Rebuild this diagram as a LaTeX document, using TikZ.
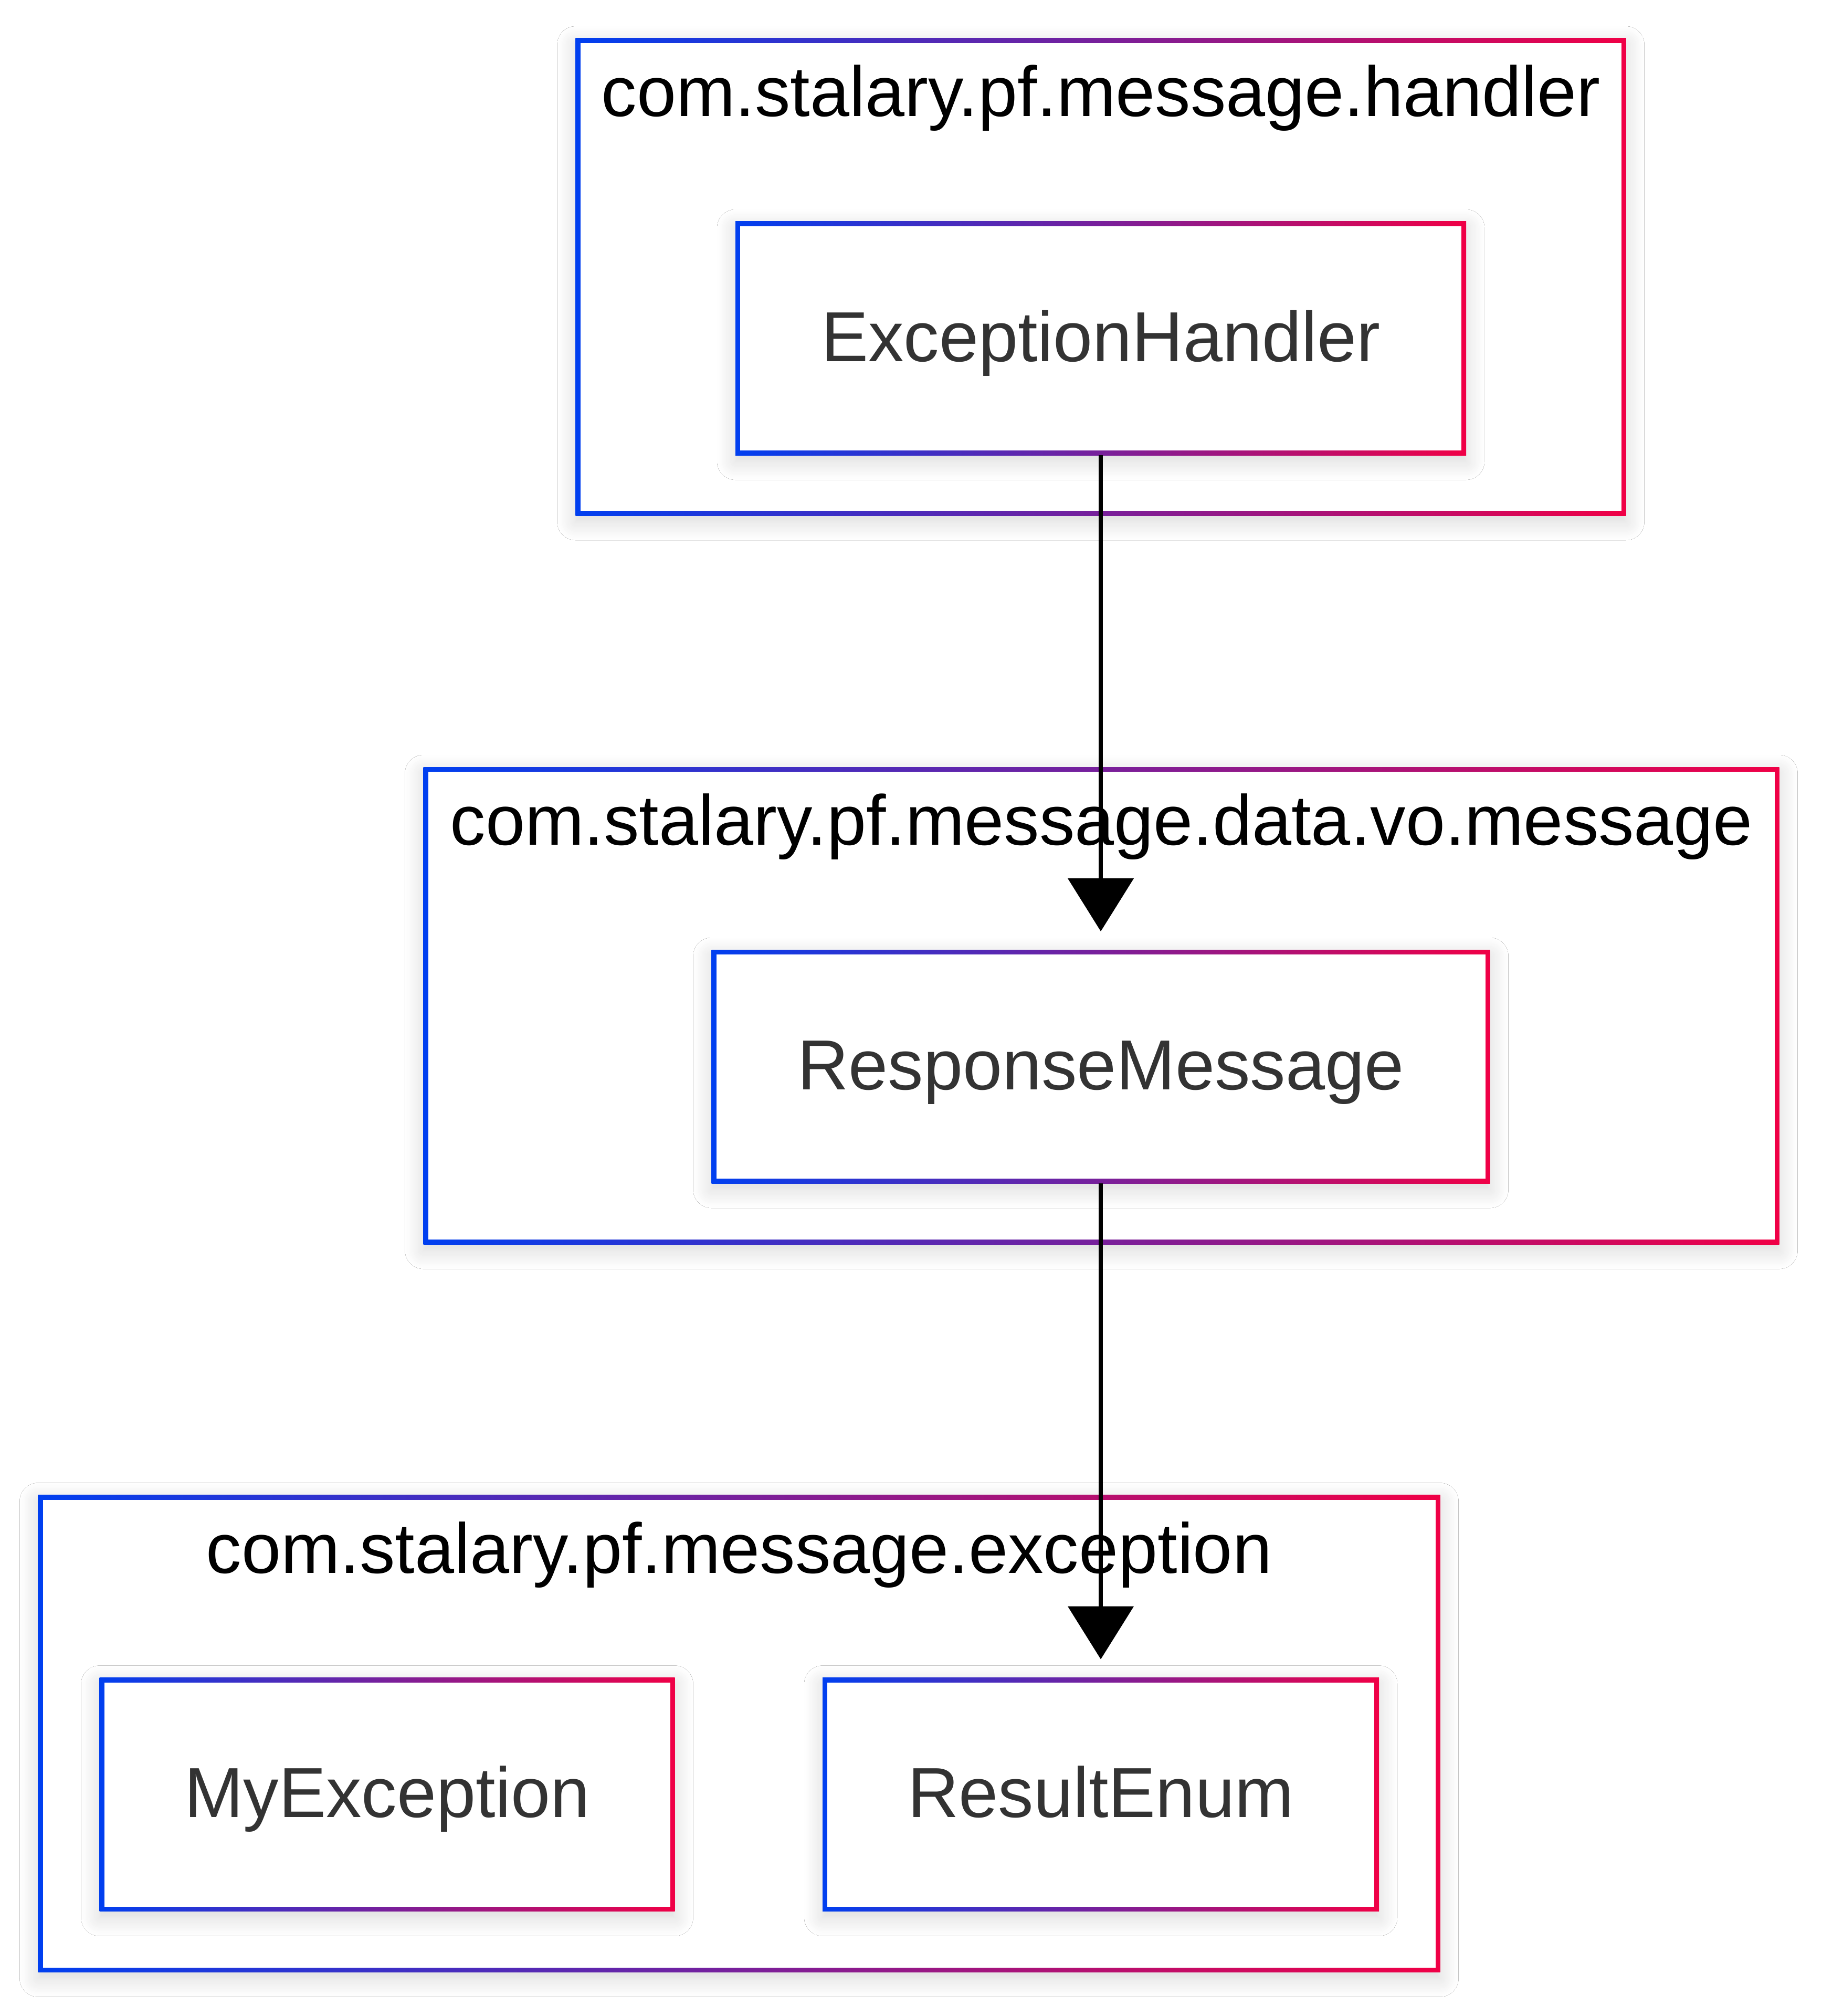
\documentclass[tikz,border=0pt]{standalone}
\usepackage{fontspec}
\setmainfont{Liberation Sans}
\usetikzlibrary{arrows.meta,shadows.blur}
\definecolor{gblue}{RGB}{0,63,240}
\definecolor{gred}{RGB}{240,0,70}
\definecolor{labelgray}{RGB}{51,51,51}

\begin{document}
\begin{tikzpicture}[
  gbox/.style={rectangle, inner sep=0pt, outer sep=0pt, left color=gblue, right color=gred,
    blur shadow={shadow xshift=0pt, shadow yshift=-0.12cm, shadow blur radius=0.35cm,
      shadow blur steps=16, shadow blur extra rounding=0pt, shadow opacity=16},
    path picture={\fill[white] ([shift={(0.09,-0.09)}]path picture bounding box.north west)
      rectangle ([shift={(-0.09,0.09)}]path picture bounding box.south east);}},
  pkg/.style={gbox, minimum height=9.09cm},
  cls/.style={gbox, minimum height=4.45cm, text=labelgray, font=\fontsize{38.4}{46}\selectfont,
    text height=0.97cm, text depth=0.1cm},
  pkgname/.style={anchor=base, font=\fontsize{38.4}{46}\selectfont},
  flow/.style={-{Triangle[length=1.01cm,width=1.24cm]}, line width=0.085cm, shorten >=0.35cm}
]
  \useasboundingbox[fill=white] (0,0) rectangle (34.7,-38.4);

  % packages
  \node[pkg, minimum width=20.01cm] (handler) at (20.97,-5.275) {};
  \node[pkg, minimum width=25.83cm] (vomsg) at (20.98,-19.155) {};
  \node[pkg, minimum width=26.71cm] (exception) at (14.08,-33.02) {};
  \node[pkgname] (handlername) at ([yshift=-1.485cm]handler.north) {com.stalary.pf.message.handler};
  \node[pkgname] (vomsgname) at ([yshift=-1.485cm]vomsg.north) {com.stalary.pf.message.data.vo.message};
  \node[pkgname] (exceptionname) at ([yshift=-1.485cm]exception.north) {com.stalary.pf.message.exception};

  % classes
  \node[cls, minimum width=13.92cm] (exhandler) at (20.97,-6.445) {ExceptionHandler};
  \node[cls, minimum width=14.83cm] (respmsg) at (20.97,-20.315) {ResponseMessage};
  \node[cls, minimum width=10.96cm] (myexc) at (7.375,-34.18) {MyException};
  \node[cls, minimum width=10.60cm] (resenum) at (20.97,-34.18) {ResultEnum};

  \draw[flow] (exhandler.south) -- (respmsg.north);
  \draw[flow] (respmsg.south) -- (resenum.north);
\end{tikzpicture}
\end{document}
